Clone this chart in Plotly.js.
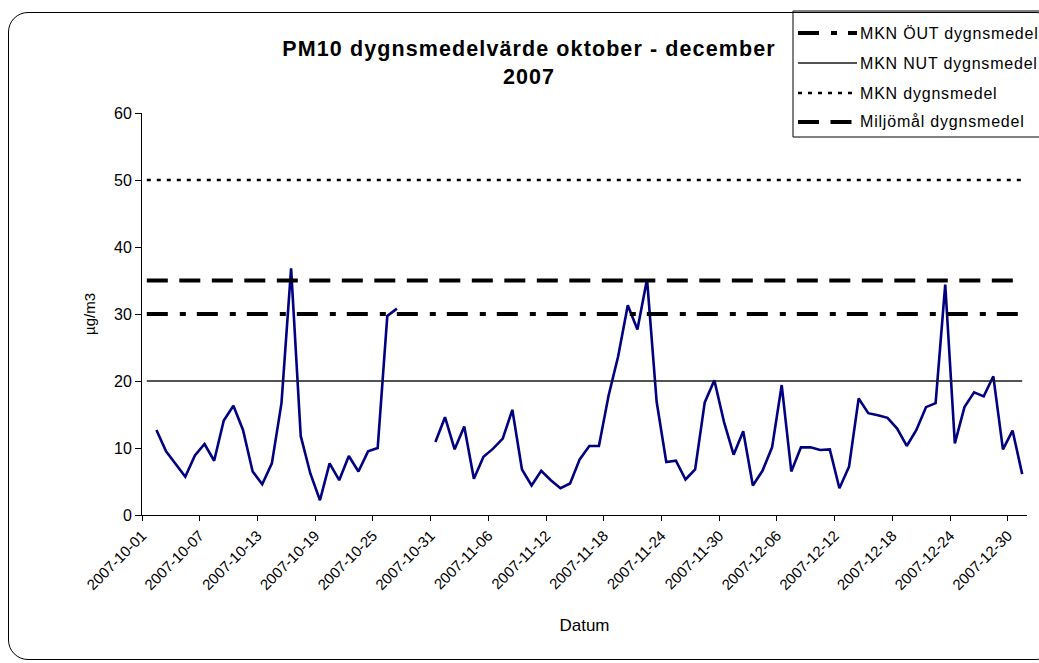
<!DOCTYPE html>
<html>
<head>
<meta charset="utf-8">
<script src="https://cdn.plot.ly/plotly-3.0.1.min.js"></script>
<style>
  html, body { margin: 0; padding: 0; background: #fff; }
  #wrap { position: relative; width: 1039px; height: 663px; overflow: hidden; }
  #chart { position: absolute; left: 0; top: 0; width: 1039px; height: 663px; }
  #frame { position: absolute; left: 8px; top: 12px; width: 1048px; height: 648px;
           border: 1.3px solid #000; border-radius: 20px; pointer-events: none; box-sizing: border-box; }
  #chart .gtitle { letter-spacing: 1.1px; }
  #chart .annotation-text { letter-spacing: 0.8px; }
</style>
</head>
<body>
<div id="wrap">
  <div id="chart"></div>
  <div id="frame"></div>
</div>
<script>
// ---- data ----
const dates = [
 '2007-10-01','2007-10-02','2007-10-03','2007-10-04','2007-10-05','2007-10-06','2007-10-07','2007-10-08','2007-10-09','2007-10-10',
 '2007-10-11','2007-10-12','2007-10-13','2007-10-14','2007-10-15','2007-10-16','2007-10-17','2007-10-18','2007-10-19','2007-10-20',
 '2007-10-21','2007-10-22','2007-10-23','2007-10-24','2007-10-25','2007-10-26','2007-10-27','2007-10-28','2007-10-29','2007-10-30',
 '2007-10-31','2007-11-01','2007-11-02','2007-11-03','2007-11-04','2007-11-05','2007-11-06','2007-11-07','2007-11-08','2007-11-09',
 '2007-11-10','2007-11-11','2007-11-12','2007-11-13','2007-11-14','2007-11-15','2007-11-16','2007-11-17','2007-11-18','2007-11-19',
 '2007-11-20','2007-11-21','2007-11-22','2007-11-23','2007-11-24','2007-11-25','2007-11-26','2007-11-27','2007-11-28','2007-11-29',
 '2007-11-30','2007-12-01','2007-12-02','2007-12-03','2007-12-04','2007-12-05','2007-12-06','2007-12-07','2007-12-08','2007-12-09',
 '2007-12-10','2007-12-11','2007-12-12','2007-12-13','2007-12-14','2007-12-15','2007-12-16','2007-12-17','2007-12-18','2007-12-19',
 '2007-12-20','2007-12-21','2007-12-22','2007-12-23','2007-12-24','2007-12-25','2007-12-26','2007-12-27','2007-12-28','2007-12-29',
 '2007-12-30','2007-12-31'
];
const pm10 = [
 null,12.7,9.5,7.6,5.7,8.9,10.6,8.1,14.1,16.3,
 12.7,6.5,4.6,7.7,16.7,36.8,11.8,6.2,2.2,7.7,
 5.2,8.8,6.5,9.5,10.0,29.7,30.8,null,null,null,
 10.9,14.6,9.8,13.2,5.4,8.7,9.9,11.4,15.7,6.8,
 4.4,6.6,5.2,4.0,4.7,8.3,10.3,10.3,17.8,23.7,
 31.3,27.7,35.2,16.9,7.9,8.1,5.3,6.8,16.8,20.1,
 13.9,9.0,12.5,4.4,6.6,10.1,19.4,6.5,10.1,10.1,
 9.7,9.8,4.0,7.2,17.4,15.2,14.9,14.5,12.9,10.3,
 12.7,16.1,16.7,34.4,10.7,16.1,18.3,17.7,20.7,9.8,
 12.6,6.1
];
const refNames  = ['MKN ÖUT dygnsmedel','MKN NUT dygnsmedel','MKN dygnsmedel','Miljömål dygnsmedel'];
const refLevels = [30, 20, 50, 35];
const refSpan   = ['2007-10-01','2007-12-31'];
const yTicks    = [0,10,20,30,40,50,60];

// ---- styles ----
const FONT = '"Liberation Sans", Arial, sans-serif';
const refStyles = [
  {color:'#000', width:4, dash:'21px,12px,6px,11px'},
  {color:'#1a1a1a', width:1.5, dash:'solid'},
  {color:'#000', width:2.6, dash:'4px,6px'},
  {color:'#000', width:4, dash:'21px,11.5px'}
];
const M = {l:142, r:12, t:113, b:148};
const W = 1039 - M.l - M.r, H = 663 - M.t - M.b;
const px = x => (x - M.l) / W;
const py = y => (663 - M.b - y) / H;

const traces = [{
  x: dates, y: pm10, type:'scatter', mode:'lines', name:'PM10',
  xperiod: 86400000, xperiodalignment:'middle', connectgaps:false,
  line:{color:'#000080', width:2.6}
}];
refLevels.forEach((lv, i) => {
  traces.push({
    x: refSpan, y: refSpan.map(() => lv), type:'scatter', mode:'lines', name: refNames[i],
    xperiod: 86400000, xperiodalignment:'middle', line: refStyles[i]
  });
});

// legend (drawn manually)
const legY = [33, 63, 93, 122];
const shapes = [{
  type:'rect', xref:'paper', yref:'paper', x0:px(793), x1:px(1050), y0:py(137), y1:py(11),
  line:{color:'#000', width:1}, fillcolor:'#fff', layer:'above'
}];
const annotations = [];
refNames.forEach((n, i) => {
  shapes.push({type:'line', xref:'paper', yref:'paper', x0:px(798), x1:px(857), y0:py(legY[i]), y1:py(legY[i]),
    line:{color:refStyles[i].color, width:refStyles[i].width, dash:refStyles[i].dash}, layer:'above'});
  annotations.push({xref:'paper', yref:'paper', x:px(858), y:py(legY[i]), xanchor:'left', yanchor:'middle',
    align:'left', text:n, showarrow:false, font:{family:FONT, size:16, color:'#000'}});
});

const layout = {
  width:1039, height:663, margin:M, showlegend:false,
  paper_bgcolor:'#fff', plot_bgcolor:'#fff',
  font:{family:FONT, color:'#000'},
  title:{text:'<b>PM10 dygnsmedelvärde oktober - december<br>2007</b>', xref:'container', yref:'container',
    x:529/1039, xanchor:'center', y:1-56/663, yanchor:'middle', font:{family:FONT, size:21.5, color:'#000'}},
  xaxis:{
    type:'date', range:['2007-10-01','2008-01-01'], tickmode:'linear', tick0:'2007-10-01', dtick:6*86400000,
    tickformat:'%Y-%m-%d', tickangle:-45, ticks:'outside', ticklen:5, tickcolor:'#000', tickwidth:1,
    showline:true, linecolor:'#000', linewidth:1, showgrid:false, zeroline:false,
    tickfont:{family:FONT, size:15, color:'#000'},
    title:{text:'Datum', font:{family:FONT, size:17, color:'#000'}, standoff:26}
  },
  yaxis:{
    range:[0,60], tickvals:yTicks, ticks:'outside', ticklen:6, tickcolor:'#000', tickwidth:1,
    showline:true, linecolor:'#000', linewidth:1, showgrid:false, zeroline:false,
    tickfont:{family:FONT, size:16, color:'#000'},
    title:{text:'µg/m3', font:{family:FONT, size:15, color:'#000'}, standoff:14}
  },
  shapes: shapes, annotations: annotations
};
Plotly.newPlot('chart', traces, layout, {staticPlot:true, displayModeBar:false});
</script>
</body>
</html>
